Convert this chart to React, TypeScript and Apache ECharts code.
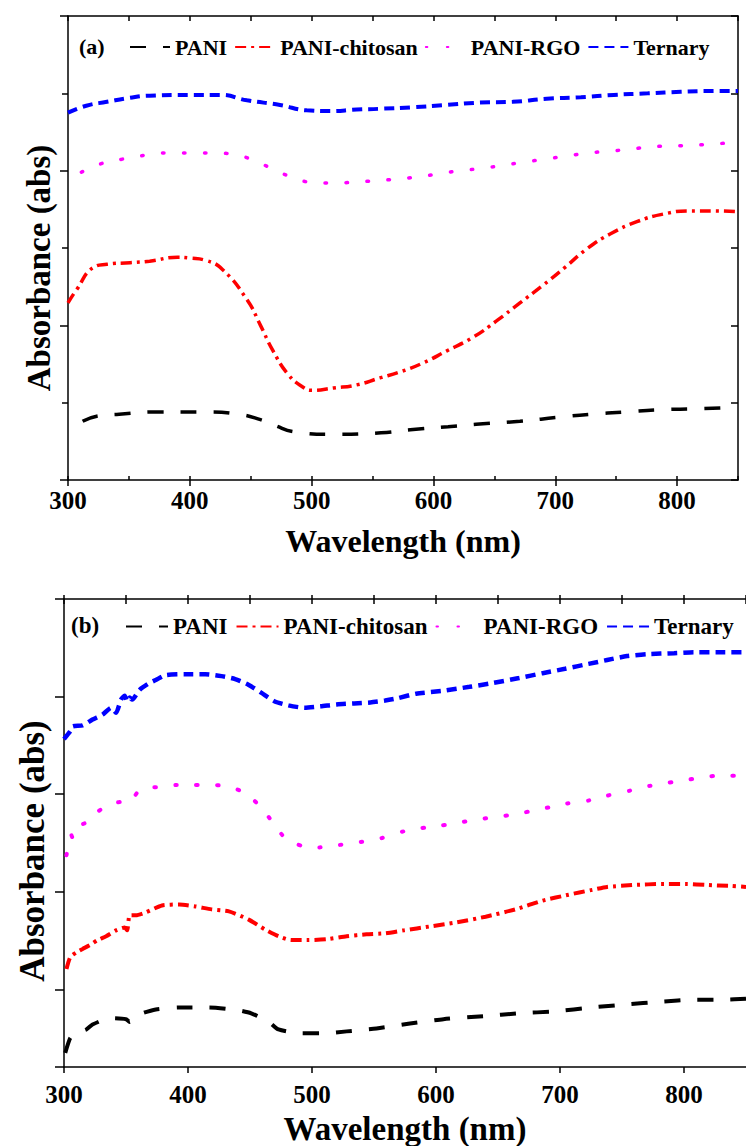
import React, { useEffect, useRef } from 'react';
import * as echarts from 'echarts';

const FONT = 'Liberation Serif';
const NAMES = ['PANI', 'PANI-chitosan', 'PANI-RGO', 'Ternary'];

// ---------- Panel (a) ----------
const PANI_A_X = [312, 325, 342, 373, 413, 440, 458, 469, 487, 518, 557, 581, 612, 635, 671, 702, 729, 757, 788, 815, 849];
const PANI_A_Y = [0.76, 0.83, 0.85, 0.88, 0.88, 0.85, 0.78, 0.71, 0.62, 0.59, 0.61, 0.65, 0.69, 0.72, 0.76, 0.81, 0.85, 0.88, 0.91, 0.92, 0.94];

const CHI_A_X = [300, 307, 321, 332, 351, 367, 390, 400, 413, 427, 447, 458, 468, 481, 493, 500, 518, 537, 556, 573, 591, 611, 633, 652, 671, 690, 708, 726, 745, 767, 789, 811, 830, 850];
const CHI_A_Y = [2.29, 2.46, 2.75, 2.79, 2.81, 2.83, 2.88, 2.87, 2.84, 2.72, 2.33, 2.0, 1.68, 1.36, 1.2, 1.16, 1.19, 1.23, 1.32, 1.4, 1.51, 1.67, 1.85, 2.06, 2.29, 2.52, 2.75, 2.99, 3.18, 3.34, 3.44, 3.48, 3.48, 3.47];

const RGO_A_X = [311, 329, 345, 363, 380, 398, 415, 433, 450, 467, 483, 500, 517, 534, 552, 569, 587, 605, 622, 640, 657, 674, 692, 710, 727, 744, 762, 780, 797, 815, 833, 850];
const RGO_A_Y = [3.98, 4.1, 4.15, 4.2, 4.23, 4.23, 4.23, 4.22, 4.15, 4.03, 3.92, 3.85, 3.84, 3.85, 3.87, 3.89, 3.92, 3.96, 4.0, 4.03, 4.07, 4.11, 4.15, 4.19, 4.23, 4.25, 4.28, 4.31, 4.32, 4.33, 4.35, 4.36];

const TER_A_X = [300, 315, 332, 350, 367, 399, 425, 447, 474, 496, 515, 537, 556, 583, 611, 638, 665, 693, 721, 748, 776, 803, 830, 850];
const TER_A_Y = [4.75, 4.84, 4.89, 4.94, 4.97, 4.98, 4.98, 4.91, 4.85, 4.78, 4.77, 4.79, 4.8, 4.82, 4.85, 4.88, 4.89, 4.93, 4.95, 4.98, 5.0, 5.02, 5.03, 5.03];

// ---------- Panel (b) ----------
const PANI_B_X = [301, 305, 309, 318, 323, 337, 350, 353, 361, 374, 393, 417, 441, 451, 465, 473, 491, 510, 528, 552, 579, 606, 638, 667, 696, 726, 752, 782, 808, 832, 850];
const PANI_B_Y = [0.7, 1.0, 1.1, 1.18, 1.28, 1.41, 1.39, 1.33, 1.49, 1.59, 1.63, 1.63, 1.57, 1.51, 1.34, 1.18, 1.1, 1.1, 1.14, 1.2, 1.3, 1.39, 1.45, 1.51, 1.55, 1.63, 1.69, 1.75, 1.79, 1.79, 1.81];

const CHI_B_X = [302, 305, 310, 315, 321, 327, 334, 342, 349, 351, 353, 358, 366, 379, 393, 406, 419, 433, 449, 462, 473, 483, 496, 512, 528, 544, 559, 574, 595, 616, 640, 664, 686, 707, 726, 738, 760, 782, 802, 818, 838, 850];
const CHI_B_Y = [2.42, 2.66, 2.76, 2.83, 2.91, 3.01, 3.09, 3.21, 3.27, 3.21, 3.52, 3.52, 3.58, 3.72, 3.74, 3.7, 3.64, 3.6, 3.43, 3.23, 3.09, 3.01, 3.01, 3.03, 3.09, 3.13, 3.15, 3.21, 3.29, 3.37, 3.49, 3.64, 3.82, 3.94, 4.04, 4.1, 4.14, 4.16, 4.16, 4.14, 4.12, 4.1];

const RGO_B_X = [302, 306, 307, 313, 318, 326, 334, 343, 350, 354, 359, 367, 379, 391, 405, 419, 434, 447, 459, 469, 479, 492, 506, 522, 539, 556, 574, 592, 610, 628, 644, 662, 676, 691, 706, 723, 738, 756, 772, 786, 802, 814, 830, 850];
const RGO_B_Y = [4.75, 5.16, 5.1, 5.36, 5.42, 5.62, 5.75, 5.83, 5.85, 5.85, 6.03, 6.13, 6.15, 6.19, 6.19, 6.19, 6.15, 6.01, 5.73, 5.4, 5.08, 4.94, 4.91, 4.96, 5.02, 5.1, 5.24, 5.32, 5.38, 5.46, 5.52, 5.58, 5.65, 5.73, 5.81, 5.87, 5.97, 6.07, 6.17, 6.23, 6.29, 6.35, 6.38, 6.38];

const TER_B_X = [300, 305, 307, 315, 323, 331, 338, 342, 346, 349, 351, 353, 355, 361, 369, 374, 382, 398, 414, 427, 438, 449, 459, 470, 481, 494, 507, 520, 534, 547, 559, 568, 584, 606, 627, 646, 667, 686, 704, 723, 738, 754, 770, 792, 808, 826, 850];
const TER_B_Y = [7.13, 7.29, 7.39, 7.41, 7.53, 7.63, 7.77, 7.67, 7.94, 8.02, 7.9, 7.98, 7.94, 8.14, 8.28, 8.34, 8.44, 8.46, 8.46, 8.42, 8.36, 8.24, 8.08, 7.9, 7.82, 7.77, 7.8, 7.84, 7.86, 7.88, 7.92, 7.96, 8.06, 8.12, 8.2, 8.28, 8.38, 8.48, 8.57, 8.67, 8.75, 8.83, 8.87, 8.89, 8.91, 8.91, 8.91];

const COLORS = ['#000000', '#ff0000', '#ff00ff', '#0000ff'];
const DASHES: number[][] = [[16, 17], [11, 5, 3, 5], [1.5, 19.5], [10, 6]];
const CAPS = ['butt', 'butt', 'round', 'butt'];

const zip = (xs: number[], ys: number[]) => xs.map((x, i) => [x, ys[i]]);

const txt = (size: number) => ({ fontFamily: FONT, fontWeight: 'bold' as const, fontSize: size, color: '#000' });

function makeSeries(data: number[][][], xi: number, yi: number, width: number, smooth: number) {
  return data.map((d, i) => ({
    type: 'line',
    name: NAMES[i],
    xAxisIndex: xi,
    yAxisIndex: yi,
    data: d,
    showSymbol: false,
    symbol: 'none',
    smooth,
    lineStyle: { color: COLORS[i], width: i === 3 ? width + 0.5 : width, type: DASHES[i], cap: CAPS[i] },
    itemStyle: { color: COLORS[i] },
  }));
}

function xAxes(grid: number, labelMargin: number, nameSize: number) {
  const base = { gridIndex: grid, type: 'value', min: 300, max: 850, splitLine: { show: false } };
  const line = { lineStyle: { color: '#000', width: 1.5 } };
  return [
    {
      ...base,
      interval: 100,
      axisLine: line,
      axisTick: { length: 6, lineStyle: { color: '#000', width: 1.5 } },
      axisLabel: { ...txt(25), margin: labelMargin, showMaxLabel: false },
      name: 'Wavelength (nm)',
      nameLocation: 'middle',
      nameGap: 45,
      nameTextStyle: txt(nameSize),
    },
    {
      ...base,
      interval: 50,
      axisLine: { show: false },
      axisTick: { length: 4, lineStyle: { color: '#000', width: 1.5 } },
      axisLabel: { show: false },
    },
    {
      ...base,
      position: 'top',
      interval: 50,
      axisLine: line,
      axisTick: { inside: true, length: 5, lineStyle: { color: '#000', width: 1.5 } },
      axisLabel: { show: false },
    },
  ];
}

const legendBase = {
  padding: 0,
  itemHeight: 14,
  data: NAMES,
  selectedMode: false,
  itemStyle: { opacity: 0, borderWidth: 0 },
};

const option = {
  animation: false,
  backgroundColor: '#ffffff',
  grid: [
    { left: 68, top: 16, width: 670, height: 464 },
    { left: 64, top: 599, width: 690, height: 472 },
  ],
  xAxis: [...xAxes(0, 8, 32), ...xAxes(1, 15, 33)],
  yAxis: [
    {
      gridIndex: 0, type: 'value', min: 0, max: 6, interval: 2,
      axisLine: { show: true, lineStyle: { color: '#000', width: 1.5 } },
      axisTick: { show: true, length: 8, lineStyle: { color: '#000', width: 1.5 } },
      minorTick: { show: true, splitNumber: 2, length: 6, lineStyle: { color: '#000', width: 1.5 } },
      axisLabel: { show: false }, splitLine: { show: false },
    },
    {
      gridIndex: 0, type: 'value', position: 'right', min: 0, max: 6, interval: 1,
      axisLine: { show: true, lineStyle: { color: '#000', width: 1.5 } },
      axisTick: { show: true, inside: true, length: 7, lineStyle: { color: '#000', width: 1.5 } },
      axisLabel: { show: false }, splitLine: { show: false },
    },
    {
      gridIndex: 1, type: 'value', min: 0.41, max: 10, minInterval: 2, maxInterval: 2,
      axisLine: { show: true, lineStyle: { color: '#000', width: 1.5 } },
      axisTick: { show: true, length: 9, lineStyle: { color: '#000', width: 1.5 } },
      axisLabel: { show: false }, splitLine: { show: false },
    },
    {
      gridIndex: 1, type: 'value', min: 0.41, max: 10, minInterval: 1, maxInterval: 1,
      axisLine: { show: false },
      axisTick: { show: true, length: 6, lineStyle: { color: '#000', width: 1.5 } },
      axisLabel: { show: false }, splitLine: { show: false },
    },
  ],
  legend: [
    { ...legendBase, left: 129, top: 36, itemWidth: 40, itemGap: 7, textStyle: txt(22) },
    { ...legendBase, left: 125, top: 615, itemWidth: 42, itemGap: 8, textStyle: txt(23) },
  ],
  graphic: [
    { type: 'text', left: 79, top: 35, style: { text: '(a)', font: `bold 22px "${FONT}"`, fill: '#000' } },
    { type: 'text', left: 71, top: 614, style: { text: '(b)', font: `bold 23px "${FONT}"`, fill: '#000' } },
    {
      type: 'text', x: 39, y: 268, rotation: Math.PI / 2,
      style: { text: 'Absorbance (abs)', font: `bold 33px "${FONT}"`, fill: '#000', align: 'center', verticalAlign: 'middle' },
    },
    {
      type: 'text', x: 32, y: 851, rotation: Math.PI / 2,
      style: { text: 'Absorbance (abs)', font: `bold 35px "${FONT}"`, fill: '#000', align: 'center', verticalAlign: 'middle' },
    },
  ],
  series: [
    ...makeSeries([zip(PANI_A_X, PANI_A_Y), zip(CHI_A_X, CHI_A_Y), zip(RGO_A_X, RGO_A_Y), zip(TER_A_X, TER_A_Y)], 0, 0, 3.5, 0.5),
    ...makeSeries([zip(PANI_B_X, PANI_B_Y), zip(CHI_B_X, CHI_B_Y), zip(RGO_B_X, RGO_B_Y), zip(TER_B_X, TER_B_Y)], 3, 2, 4, 0.2),
  ],
};

export default function App() {
  const ref = useRef<HTMLDivElement>(null);
  useEffect(() => {
    document.body.style.margin = '0';
    const chart = echarts.init(ref.current as HTMLDivElement, null, { renderer: 'svg' });
    chart.setOption(option as any);
    return () => chart.dispose();
  }, []);
  return <div ref={ref} style={{ width: 746, height: 1146 }} />;
}
